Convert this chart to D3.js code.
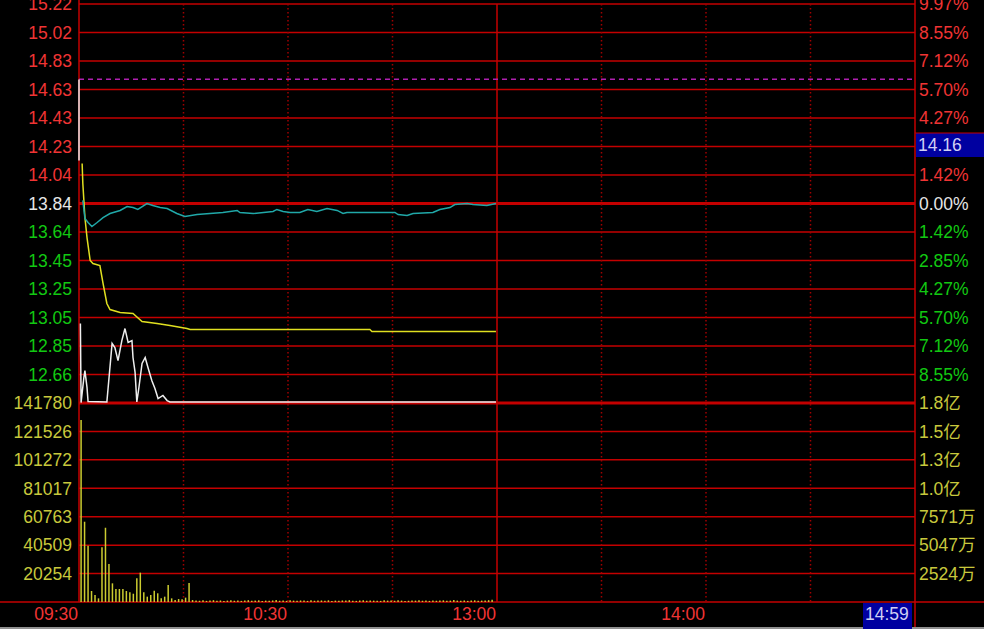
<!DOCTYPE html>
<html>
<head>
<meta charset="utf-8">
<script src="https://cdnjs.cloudflare.com/ajax/libs/d3/7.8.5/d3.min.js"></script>
<style>
  body { margin: 0; background: #000; }
  svg { display: block; }
  text { font-family: "Liberation Sans", Arial, "Noto Sans CJK SC", sans-serif; font-size: 17.5px; }
</style>
</head>
<body>
<svg></svg>
<script>
// axis labels
var prevClose = 13.84, priceStep = 0.1967;
var priceLabels = ["15.22","15.02","14.83","14.63","14.43","14.23","14.04","13.84","13.64","13.45","13.25","13.05","12.85","12.66"];
var pctLabels = ["9.97%","8.55%","7.12%","5.70%","4.27%","2.85%","1.42%","0.00%","1.42%","2.85%","4.27%","5.70%","7.12%","8.55%"];
var volTicks = [141780,121526,101272,81017,60763,40509,20254];
var amtLabels = ["1.8亿","1.5亿","1.3亿","1.0亿","7571万","5047万","2524万"];
var timeTicks = [0,60,120,180];
var timeLabels = ["09:30","10:30","13:00","14:00"];
var dotTicks = [30,60,90,150,180,210];
var lastTime = "14:59", lastPrice = "14.16";
var lastPriceRow = 5; // the box sits over this row's percent label
var dashLevel = 14.698;

// yellow line (minutes from 09:30, price)
var avgT = [0.9,1.1,1.7,2.3,3.2,4.0,6.0,6.9,8.0,8.9,11.8,15.5,18.1,22.4,26.1,31,31.9,83.5,84.1,119.7];
var avgV = [14.116,13.978,13.743,13.605,13.447,13.426,13.412,13.288,13.150,13.108,13.088,13.081,13.026,13.012,12.998,12.977,12.970,12.970,12.957,12.957];

// cyan line
var cyT = [1.1,1.7,2.6,3.7,5.2,6.9,8.9,11.8,13.8,15.5,16.9,19.5,21.2,23.3,25.3,28.1,30.4,33.9,37.6,41.3,45.4,46.2,50,55.7,56.8,58.6,60.6,63.4,65.7,68.3,71.2,74.1,75.8,76.9,84.4,90.7,91.6,94.2,95.9,101.6,103.6,106.5,107.9,111.4,113.1,117.1,119.7];
var cyV = [13.861,13.736,13.709,13.681,13.709,13.743,13.771,13.792,13.819,13.812,13.799,13.840,13.826,13.812,13.805,13.771,13.750,13.764,13.771,13.778,13.792,13.778,13.771,13.785,13.799,13.785,13.778,13.778,13.799,13.785,13.805,13.792,13.771,13.778,13.778,13.778,13.764,13.757,13.771,13.778,13.799,13.812,13.833,13.840,13.833,13.826,13.840];

// white line near the bottom of the price panel
var wT = [0.4,0.6,1.4,1.7,2.3,2.6,8.0,9.5,10.3,11.2,12.3,13.2,14.1,15.2,15.5,16.1,16.6,17.2,18.1,19.0,19.8,20.9,21.8,22.7,24.1,25.3,26.1,119.7];
var wV = [13.012,12.466,12.639,12.687,12.570,12.473,12.470,12.874,12.846,12.756,12.894,12.977,12.881,12.894,12.777,12.674,12.470,12.570,12.736,12.777,12.708,12.618,12.563,12.494,12.515,12.480,12.470,12.470];

// opening white stroke
var openT = [0,0];
var openV = [14.696,14.137];

// volume per minute
var volumes = [129670,57200,40100,7840,5000,2600,39000,52900,27100,13300,9260,9260,9260,7840,6900,5900,16900,20900,6900,3800,5000,8050,6200,2600,3800,12100,2600,1400,2100,1900,3100,13500,1400,
  1100,900,1200,800,1000,1300,900,1100,700,1000,1200,900,1000,800,1100,1300,900,1000,1200,800,1000,900,1100,1400,900,1000,800,1200,1000,900,1100,1000,800,1300,900,1000,1100,900,1200,800,1000,900,1100,1000,1300,900,800,1000,1200,900,1100,1000,900,800,1200,1000,1100,900,1300,1000,800,900,1100,1000,1200,900,1000,800,1100,900,1000,1200,900,1000,1400,
  1000,900,1100,800,1000,1200,900,1000,1100,1300,1600];

var width = 984, height = 629;
var red = "#c40000", dotRed = "#a00000";
var txtRed = "#f03434", txtGreen = "#12c812", txtWhite = "#e6e6e6", txtYellow = "#c8c83c";

var svg = d3.select('svg').attr('width', width).attr('height', height)
    .style('background-color', '#000');

var x = d3.scaleLinear().domain([0, 240]).range([79, 915]);
var yP = d3.scaleLinear().domain([prevClose - 7 * priceStep, prevClose + 7 * priceStep]).range([403, 4]);
var yV = d3.scaleLinear().domain([0, volTicks[0]]).range([602, 403]);

var priceTicks = d3.range(7, -7, -1).map(function(k) { return prevClose + k * priceStep; });

// horizontal grid
svg.selectAll('.pgrid').data(priceTicks).enter().append('line')
    .attr('x1', 79).attr('x2', 915)
    .attr('y1', function(d) { return yP(d); }).attr('y2', function(d) { return yP(d); })
    .attr('stroke', red)
    .attr('stroke-width', function(d, i) { return i == 7 ? 3 : 1.5; });

svg.selectAll('.vgrid').data(volTicks).enter().append('line')
    .attr('x1', 79).attr('x2', 915)
    .attr('y1', function(d) { return yV(d); }).attr('y2', function(d) { return yV(d); })
    .attr('stroke', red)
    .attr('stroke-width', function(d, i) { return i == 0 ? 3 : 1.5; });

// bottom axis line
svg.append('line').attr('x1', 0).attr('x2', width).attr('y1', yV(0)).attr('y2', yV(0))
    .attr('stroke', red).attr('stroke-width', 1.5);

// dotted time grid
svg.selectAll('.dot').data(dotTicks).enter().append('line')
    .attr('x1', function(d) { return x(d); }).attr('x2', function(d) { return x(d); })
    .attr('y1', 4).attr('y2', yV(0))
    .attr('stroke', dotRed).attr('stroke-width', 1.5)
    .attr('stroke-dasharray', '1.5,2.5');

// 13:00 solid line, left and right borders
svg.append('line').attr('x1', x(120)).attr('x2', x(120)).attr('y1', 4).attr('y2', yV(0))
    .attr('stroke', red).attr('stroke-width', 1.5);
svg.append('line').attr('x1', x(0)).attr('x2', x(0)).attr('y1', 0).attr('y2', yV(0))
    .attr('stroke', red).attr('stroke-width', 1.5);
svg.append('line').attr('x1', x(240)).attr('x2', x(240)).attr('y1', 0).attr('y2', height)
    .attr('stroke', red).attr('stroke-width', 1.5);

// magenta dashed level
svg.append('line').attr('x1', x(0)).attr('x2', x(240))
    .attr('y1', yP(dashLevel)).attr('y2', yP(dashLevel))
    .attr('stroke', '#b020b0').attr('stroke-width', 1.5)
    .attr('stroke-dasharray', '5,4');

// volume bars
svg.selectAll('.bar').data(volumes).enter().append('line')
    .attr('x1', function(d, i) { return x(i + 0.6); }).attr('x2', function(d, i) { return x(i + 0.6); })
    .attr('y1', yV(0)).attr('y2', function(d) { return yV(d); })
    .attr('stroke', '#cccc30').attr('stroke-width', 1.5);

var line = d3.line()
    .x(function(d) { return x(d[0]); })
    .y(function(d) { return yP(d[1]); });

var addLine = function(ts, vs, color) {
  svg.append('path')
      .datum(d3.zip(ts, vs))
      .attr('d', line)
      .attr('fill', 'none')
      .attr('stroke', color)
      .attr('stroke-width', 1.5);
}

addLine(wT, wV, '#eeeeee');
addLine(avgT, avgV, '#e0e020');
addLine(cyT, cyV, '#20a8a8');
addLine(openT, openV, '#eeeeee');

// left labels
var labelColor = function(i) { return i < 7 ? txtRed : (i == 7 ? txtWhite : txtGreen); };

svg.selectAll('.pl').data(priceTicks).enter().append('text')
    .attr('x', 72).attr('y', function(d) { return yP(d); }).attr('dy', '0.36em')
    .attr('text-anchor', 'end')
    .attr('fill', function(d, i) { return labelColor(i); })
    .text(function(d, i) { return priceLabels[i]; });

// right percent labels, the one under the price box is hidden
svg.selectAll('.pr').data(priceTicks.filter(function(d, i) { return i != lastPriceRow; }))
    .enter().append('text')
    .attr('x', 919).attr('y', function(d) { return yP(d); }).attr('dy', '0.36em')
    .attr('fill', function(d) { return labelColor(priceTicks.indexOf(d)); })
    .text(function(d) { return pctLabels[priceTicks.indexOf(d)]; });

svg.selectAll('.vl').data(volTicks).enter().append('text')
    .attr('x', 72).attr('y', function(d) { return yV(d); }).attr('dy', '0.36em')
    .attr('text-anchor', 'end')
    .attr('fill', txtYellow)
    .text(function(d) { return d; });

svg.selectAll('.vr').data(volTicks).enter().append('text')
    .attr('x', 919).attr('y', function(d) { return yV(d); }).attr('dy', '0.36em')
    .attr('fill', txtYellow)
    .text(function(d, i) { return amtLabels[i]; });

// time labels
svg.selectAll('.tl').data(timeTicks).enter().append('text')
    .attr('x', function(d) { return x(d) - 1; }).attr('y', 614).attr('dy', '0.36em')
    .attr('text-anchor', 'end')
    .attr('fill', txtRed)
    .text(function(d, i) { return timeLabels[i]; });

// bottom grey strip
svg.append('rect').attr('x', 0).attr('y', 627).attr('width', width).attr('height', 2)
    .attr('fill', '#909090');

// current price box on the right
svg.append('rect').attr('x', 916).attr('y', 133).attr('width', 68).attr('height', 24)
    .attr('fill', '#0000a0');
svg.append('line').attr('x1', 915).attr('x2', width).attr('y1', 133).attr('y2', 133)
    .attr('stroke', red).attr('stroke-width', 1);
svg.append('text').attr('x', 918).attr('y', 145).attr('dy', '0.36em')
    .attr('fill', '#d0d0f4').text(lastPrice);

// last time box
svg.append('rect').attr('x', 863).attr('y', 603).attr('width', 49).attr('height', 26)
    .attr('fill', '#0000a0');
svg.append('text').attr('x', 865).attr('y', 614).attr('dy', '0.36em')
    .attr('fill', '#d0d0f4').text(lastTime);
</script>
</body>
</html>
